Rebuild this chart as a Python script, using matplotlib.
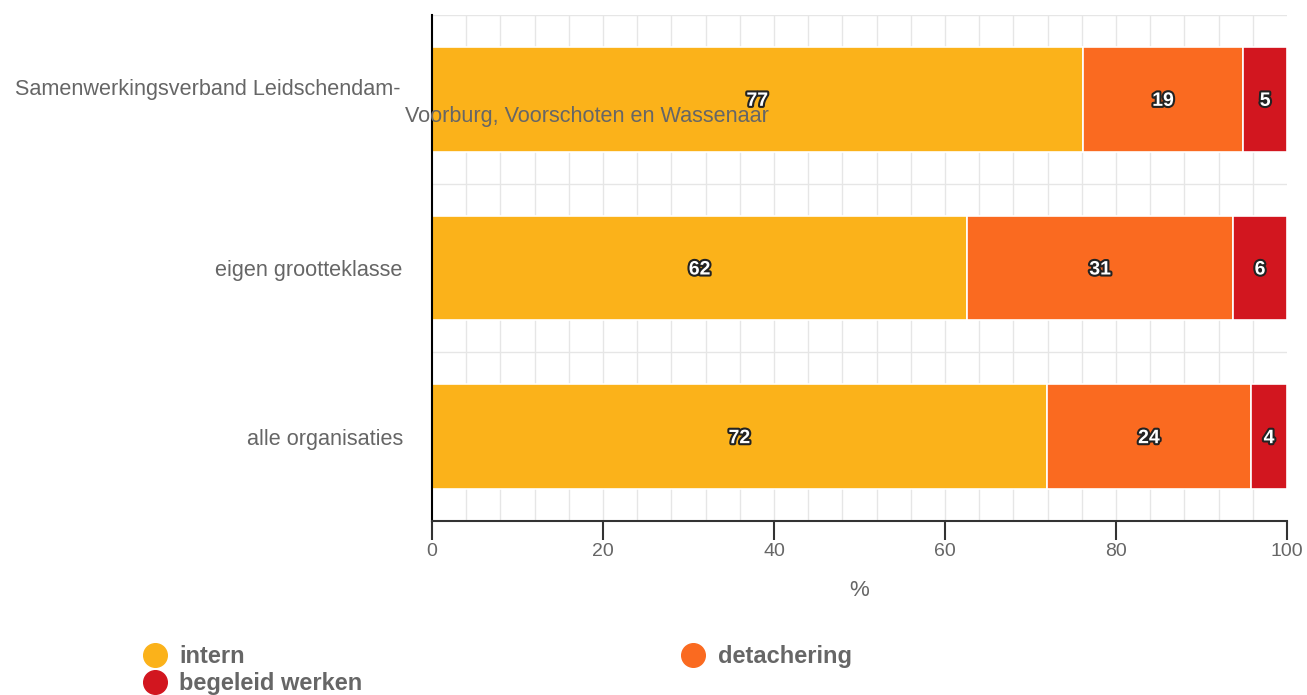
import numpy as np
import matplotlib.pyplot as plt
import matplotlib.patheffects as pe
from matplotlib.lines import Line2D

plt.rcParams['font.family'] = ['Liberation Sans', 'DejaVu Sans']

categories = ["Samenwerkingsverband Leidschendam-\nVoorburg, Voorschoten en Wassenaar",
              "eigen grootteklasse", "alle organisaties"]
series_names = ["intern", "detachering", "begeleid werken"]
intern = [76.1, 62.6, 71.9]
detachering = [18.8, 31.1, 23.9]
begeleid = [5.1, 6.3, 4.2]
intern_labels = [77, 62, 72]
detachering_labels = [19, 31, 24]
begeleid_labels = [5, 6, 4]
colors = ["#FBB21A", "#FA6A20", "#D2161F"]

grey = "#666666"

fig = plt.figure(figsize=(13.07, 6.95), dpi=100)
ax = fig.add_axes([432 / 1307, 1 - 521 / 695, 855 / 1307, 506 / 695])

y = np.arange(len(categories))
series = [intern, detachering, begeleid]
labels = [intern_labels, detachering_labels, begeleid_labels]
left = np.zeros(len(categories))
for vals, labs, col in zip(series, labels, colors):
    vals = np.array(vals)
    ax.barh(y, vals, left=left, height=0.62, color=col, edgecolor="white",
            linewidth=1.2, zorder=2)
    for yi, (l, v, lab) in enumerate(zip(left, vals, labs)):
        t = ax.text(l + v / 2, yi, str(lab), ha="center", va="center_baseline",
                    color="white", fontsize=14, fontweight="bold", zorder=4)
        t.set_path_effects([pe.withStroke(linewidth=3, foreground="#222222")])
    left += vals

ax.set_xlim(0, 100)
ax.set_ylim(2.5, -0.5)

# grid
for gx in np.arange(4, 100, 4):
    ax.axvline(gx, color="#e6e6e6", linewidth=1, zorder=0)
for gy in [-0.5, 0.5, 1.5]:
    ax.axhline(gy, color="#e6e6e6", linewidth=1, zorder=0)

ax.set_xticks(np.arange(0, 101, 20))
ax.tick_params(axis="x", length=14, width=1.5, color="#333333",
               labelsize=14, labelcolor=grey, pad=2)
ax.set_yticks(y)
ax.set_yticklabels(["", categories[1], categories[2]])
ax.tick_params(axis="y", length=0, labelsize=15.6, labelcolor=grey, pad=21)

# first category label, wrapped like the original
line1, line2 = categories[0].split("\n")
ax.annotate(line1, xy=(0, 0), xycoords=("axes fraction", "data"),
            xytext=(-23, 7), textcoords="offset points", ha="right",
            va="center", fontsize=15.6, color=grey)
ax.annotate(line2, xy=(0, 0), xycoords=("axes fraction", "data"),
            xytext=(-19.5, -12.5), textcoords="offset points", ha="left",
            va="center", fontsize=15.6, color=grey, zorder=5)

for s in ["top", "right"]:
    ax.spines[s].set_visible(False)
ax.spines["left"].set_color("black")
ax.spines["left"].set_linewidth(1.5)
ax.spines["bottom"].set_color("#333333")
ax.spines["bottom"].set_linewidth(1.5)

ax.set_xlabel("%", fontsize=16, color=grey, labelpad=14)

handles = [Line2D([], [], marker="o", linestyle="none", markersize=17,
                  color=c) for c in colors]
order = [0, 2, 1]
fig.legend([handles[i] for i in order], [series_names[i] for i in order],
           loc="upper left", bbox_to_anchor=(131 / 1307, 1 - 633 / 695),
           ncol=2, frameon=False, handlelength=1.0, handletextpad=0.55,
           labelspacing=0.17, columnspacing=13.5, borderpad=0,
           prop={"size": 17, "weight": "bold"}, labelcolor=grey)

fig.savefig("out.png", dpi=100)
